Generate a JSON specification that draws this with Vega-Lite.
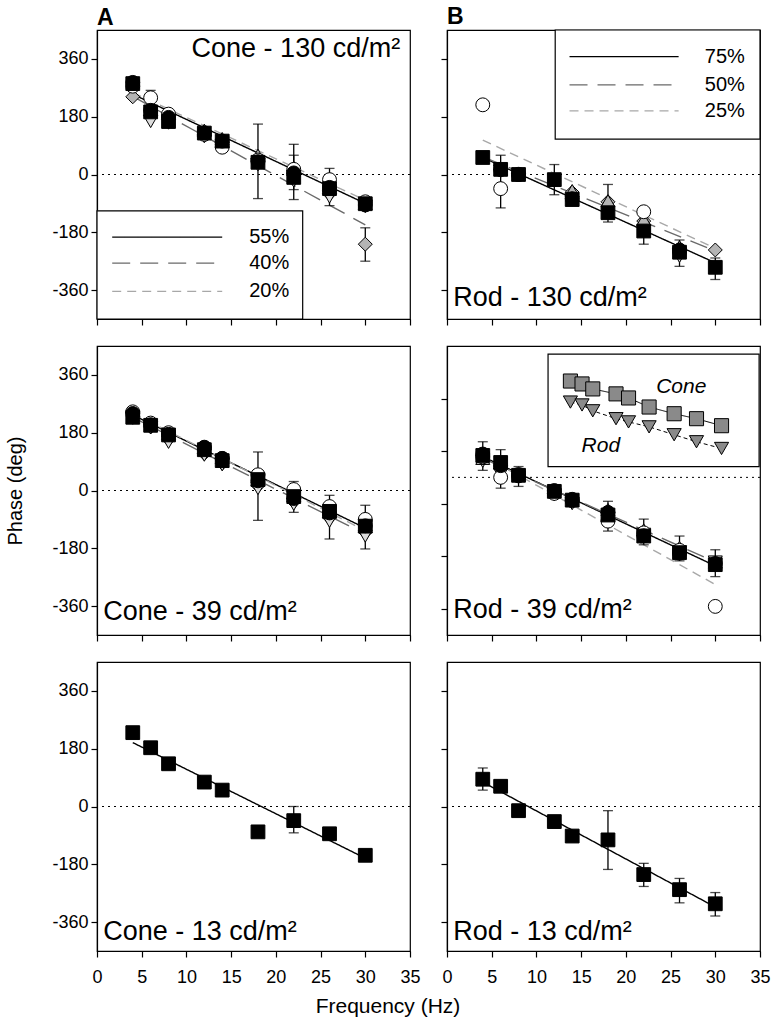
{
"$schema":"https://vega.github.io/schema/vega-lite/v6.json",
"background":"white",
"padding":5,
"title":{"text":"Frequency (Hz)","orient":"bottom","anchor":"middle","fontSize":21,"fontWeight":"normal","font":"Liberation Sans","color":"black","offset":9},
"columns":2,
"spacing":{"row":18,"column":18},
"datasets":{
"pts":[
{"p":"A1","s":"di","f":4,"v":242},{"p":"A1","s":"di","f":6,"v":185},{"p":"A1","s":"di","f":8,"v":172},{"p":"A1","s":"di","f":12,"v":122},{"p":"A1","s":"di","f":14,"v":100},{"p":"A1","s":"di","f":18,"v":50},{"p":"A1","s":"di","f":22,"v":12},{"p":"A1","s":"di","f":26,"v":-60},{"p":"A1","s":"di","f":30,"v":-217},
{"p":"A1","s":"td","f":6,"v":165},{"p":"A1","s":"td","f":8,"v":160},{"p":"A1","s":"td","f":12,"v":118},{"p":"A1","s":"td","f":14,"v":90},{"p":"A1","s":"td","f":18,"v":30},{"p":"A1","s":"td","f":22,"v":-20},{"p":"A1","s":"td","f":26,"v":-70},{"p":"A1","s":"td","f":30,"v":-100},
{"p":"A1","s":"tu","f":12,"v":138},{"p":"A1","s":"tu","f":14,"v":112},{"p":"A1","s":"tu","f":18,"v":60},{"p":"A1","s":"tu","f":22,"v":22},{"p":"A1","s":"tu","f":26,"v":-30},{"p":"A1","s":"tu","f":30,"v":-90},
{"p":"A1","s":"oc","f":4,"v":275},{"p":"A1","s":"oc","f":6,"v":239},{"p":"A1","s":"oc","f":8,"v":188},{"p":"A1","s":"oc","f":12,"v":125},{"p":"A1","s":"oc","f":14,"v":85},{"p":"A1","s":"oc","f":18,"v":45},{"p":"A1","s":"oc","f":22,"v":16},{"p":"A1","s":"oc","f":26,"v":-16},{"p":"A1","s":"oc","f":30,"v":-85},
{"p":"A1","s":"ci","f":4,"v":287},{"p":"A1","s":"ci","f":6,"v":200},{"p":"A1","s":"ci","f":8,"v":178},{"p":"A1","s":"ci","f":12,"v":130},{"p":"A1","s":"ci","f":14,"v":104},{"p":"A1","s":"ci","f":18,"v":40},{"p":"A1","s":"ci","f":22,"v":5},{"p":"A1","s":"ci","f":26,"v":-40},{"p":"A1","s":"ci","f":30,"v":-95},
{"p":"A1","s":"sq","f":4,"v":283},{"p":"A1","s":"sq","f":6,"v":195},{"p":"A1","s":"sq","f":8,"v":165},{"p":"A1","s":"sq","f":12,"v":129},{"p":"A1","s":"sq","f":14,"v":104},{"p":"A1","s":"sq","f":18,"v":38},{"p":"A1","s":"sq","f":22,"v":-9},{"p":"A1","s":"sq","f":26,"v":-44},{"p":"A1","s":"sq","f":30,"v":-91},
{"p":"B1","s":"di","f":6,"v":15},{"p":"B1","s":"di","f":8,"v":2},{"p":"B1","s":"di","f":14,"v":-55},{"p":"B1","s":"di","f":18,"v":-85},{"p":"B1","s":"di","f":22,"v":-145},{"p":"B1","s":"di","f":26,"v":-230},{"p":"B1","s":"di","f":30,"v":-235},
{"p":"B1","s":"td","f":6,"v":10},{"p":"B1","s":"td","f":26,"v":-255},
{"p":"B1","s":"tu","f":14,"v":-50},{"p":"B1","s":"tu","f":18,"v":-82},{"p":"B1","s":"tu","f":22,"v":-140},{"p":"B1","s":"tu","f":26,"v":-225},
{"p":"B1","s":"oc","f":4,"v":217},{"p":"B1","s":"oc","f":6,"v":-44},{"p":"B1","s":"oc","f":8,"v":0},{"p":"B1","s":"oc","f":22,"v":-116},{"p":"B1","s":"oc","f":26,"v":-240},
{"p":"B1","s":"ci","f":6,"v":15},{"p":"B1","s":"ci","f":8,"v":0},{"p":"B1","s":"ci","f":14,"v":-75},{"p":"B1","s":"ci","f":26,"v":-235},
{"p":"B1","s":"sq","f":4,"v":53},{"p":"B1","s":"sq","f":6,"v":16},{"p":"B1","s":"sq","f":8,"v":0},{"p":"B1","s":"sq","f":12,"v":-16},{"p":"B1","s":"sq","f":14,"v":-78},{"p":"B1","s":"sq","f":18,"v":-119},{"p":"B1","s":"sq","f":22,"v":-176},{"p":"B1","s":"sq","f":26,"v":-242},{"p":"B1","s":"sq","f":30,"v":-289},
{"p":"A2","s":"di","f":4,"v":232},{"p":"A2","s":"di","f":6,"v":198},{"p":"A2","s":"di","f":8,"v":160},{"p":"A2","s":"di","f":12,"v":115},{"p":"A2","s":"di","f":14,"v":85},{"p":"A2","s":"di","f":18,"v":15},{"p":"A2","s":"di","f":22,"v":-35},{"p":"A2","s":"di","f":26,"v":-85},{"p":"A2","s":"di","f":30,"v":-130},
{"p":"A2","s":"td","f":4,"v":225},{"p":"A2","s":"td","f":6,"v":195},{"p":"A2","s":"td","f":8,"v":150},{"p":"A2","s":"td","f":12,"v":110},{"p":"A2","s":"td","f":14,"v":80},{"p":"A2","s":"td","f":18,"v":6},{"p":"A2","s":"td","f":22,"v":-43},{"p":"A2","s":"td","f":26,"v":-96},{"p":"A2","s":"td","f":30,"v":-142},
{"p":"A2","s":"oc","f":4,"v":245},{"p":"A2","s":"oc","f":6,"v":210},{"p":"A2","s":"oc","f":8,"v":180},{"p":"A2","s":"oc","f":12,"v":133},{"p":"A2","s":"oc","f":14,"v":100},{"p":"A2","s":"oc","f":18,"v":49},{"p":"A2","s":"oc","f":22,"v":3},{"p":"A2","s":"oc","f":26,"v":-50},{"p":"A2","s":"oc","f":30,"v":-90},
{"p":"A2","s":"ci","f":4,"v":240},{"p":"A2","s":"ci","f":6,"v":205},{"p":"A2","s":"ci","f":8,"v":175},{"p":"A2","s":"ci","f":12,"v":135},{"p":"A2","s":"ci","f":14,"v":100},{"p":"A2","s":"ci","f":18,"v":30},{"p":"A2","s":"ci","f":22,"v":-25},{"p":"A2","s":"ci","f":26,"v":-70},{"p":"A2","s":"ci","f":30,"v":-110},
{"p":"A2","s":"sq","f":4,"v":228},{"p":"A2","s":"sq","f":6,"v":203},{"p":"A2","s":"sq","f":8,"v":173},{"p":"A2","s":"sq","f":12,"v":127},{"p":"A2","s":"sq","f":14,"v":93},{"p":"A2","s":"sq","f":18,"v":34},{"p":"A2","s":"sq","f":22,"v":-19},{"p":"A2","s":"sq","f":26,"v":-65},{"p":"A2","s":"sq","f":30,"v":-111},
{"p":"B2","s":"di","f":6,"v":30},{"p":"B2","s":"di","f":12,"v":-50},{"p":"B2","s":"di","f":14,"v":-80},
{"p":"B2","s":"td","f":4,"v":55},{"p":"B2","s":"td","f":6,"v":10},{"p":"B2","s":"td","f":8,"v":0},{"p":"B2","s":"td","f":12,"v":-60},{"p":"B2","s":"td","f":14,"v":-90},{"p":"B2","s":"td","f":18,"v":-140},{"p":"B2","s":"td","f":22,"v":-195},{"p":"B2","s":"td","f":26,"v":-255},{"p":"B2","s":"td","f":30,"v":-290},
{"p":"B2","s":"tu","f":4,"v":65},{"p":"B2","s":"tu","f":18,"v":-110},{"p":"B2","s":"tu","f":22,"v":-180},{"p":"B2","s":"tu","f":26,"v":-240},{"p":"B2","s":"tu","f":30,"v":-290},
{"p":"B2","s":"oc","f":4,"v":70},{"p":"B2","s":"oc","f":6,"v":0},{"p":"B2","s":"oc","f":8,"v":10},{"p":"B2","s":"oc","f":12,"v":-55},{"p":"B2","s":"oc","f":14,"v":-80},{"p":"B2","s":"oc","f":18,"v":-150},{"p":"B2","s":"oc","f":22,"v":-190},{"p":"B2","s":"oc","f":26,"v":-250},{"p":"B2","s":"oc","f":30,"v":-442},
{"p":"B2","s":"ci","f":4,"v":80},{"p":"B2","s":"ci","f":6,"v":40},{"p":"B2","s":"ci","f":8,"v":5},{"p":"B2","s":"ci","f":12,"v":-45},{"p":"B2","s":"ci","f":14,"v":-75},{"p":"B2","s":"ci","f":18,"v":-120},{"p":"B2","s":"ci","f":22,"v":-200},{"p":"B2","s":"ci","f":26,"v":-260},{"p":"B2","s":"ci","f":30,"v":-295},
{"p":"B2","s":"sq","f":4,"v":75},{"p":"B2","s":"sq","f":6,"v":51},{"p":"B2","s":"sq","f":8,"v":7},{"p":"B2","s":"sq","f":12,"v":-48},{"p":"B2","s":"sq","f":14,"v":-78},{"p":"B2","s":"sq","f":18,"v":-129},{"p":"B2","s":"sq","f":22,"v":-201},{"p":"B2","s":"sq","f":26,"v":-258},{"p":"B2","s":"sq","f":30,"v":-299},
{"p":"B2","s":"isq","f":13.8,"v":330},{"p":"B2","s":"isq","f":15.1,"v":320},{"p":"B2","s":"isq","f":16.3,"v":303},{"p":"B2","s":"isq","f":18.9,"v":286},{"p":"B2","s":"isq","f":20.3,"v":272},{"p":"B2","s":"isq","f":22.6,"v":241},{"p":"B2","s":"isq","f":25.4,"v":218},{"p":"B2","s":"isq","f":27.9,"v":201},{"p":"B2","s":"isq","f":30.7,"v":177},
{"p":"B2","s":"itd","f":13.8,"v":258},{"p":"B2","s":"itd","f":15.1,"v":248},{"p":"B2","s":"itd","f":16.3,"v":228},{"p":"B2","s":"itd","f":18.9,"v":201},{"p":"B2","s":"itd","f":20.3,"v":190},{"p":"B2","s":"itd","f":22.6,"v":173},{"p":"B2","s":"itd","f":25.4,"v":146},{"p":"B2","s":"itd","f":27.9,"v":122},{"p":"B2","s":"itd","f":30.7,"v":99},
{"p":"A3","s":"sq","f":4,"v":230},{"p":"A3","s":"sq","f":6,"v":183},{"p":"A3","s":"sq","f":8,"v":133},{"p":"A3","s":"sq","f":12,"v":76},{"p":"A3","s":"sq","f":14,"v":51},{"p":"A3","s":"sq","f":18,"v":-79},{"p":"A3","s":"sq","f":22,"v":-44},{"p":"A3","s":"sq","f":26,"v":-85},{"p":"A3","s":"sq","f":30,"v":-152},
{"p":"B3","s":"sq","f":4,"v":85},{"p":"B3","s":"sq","f":6,"v":63},{"p":"B3","s":"sq","f":8,"v":-13},{"p":"B3","s":"sq","f":12,"v":-47},{"p":"B3","s":"sq","f":14,"v":-92},{"p":"B3","s":"sq","f":18,"v":-104},{"p":"B3","s":"sq","f":22,"v":-212},{"p":"B3","s":"sq","f":26,"v":-259},{"p":"B3","s":"sq","f":30,"v":-303}
],
"err":[
{"p":"A1","f":4,"lo":265,"hi":300},{"p":"A1","f":6,"lo":205,"hi":262},{"p":"A1","f":8,"lo":160,"hi":195},{"p":"A1","f":18,"lo":-75,"hi":157},{"p":"A1","f":22,"lo":-78,"hi":94},{"p":"A1","f":22,"lo":-47,"hi":60},{"p":"A1","f":26,"lo":-97,"hi":19},{"p":"A1","f":30,"lo":-110,"hi":-75},{"p":"A1","f":30,"lo":-270,"hi":-166},
{"p":"B1","f":6,"lo":-104,"hi":60},{"p":"B1","f":12,"lo":-63,"hi":31},{"p":"B1","f":14,"lo":-90,"hi":-65},{"p":"B1","f":18,"lo":-148,"hi":-31},{"p":"B1","f":22,"lo":-217,"hi":-113},{"p":"B1","f":26,"lo":-286,"hi":-204},{"p":"B1","f":30,"lo":-327,"hi":-260},
{"p":"A2","f":4,"lo":230,"hi":255},{"p":"A2","f":18,"lo":-93,"hi":120},{"p":"A2","f":22,"lo":-68,"hi":28},{"p":"A2","f":26,"lo":-151,"hi":-15},{"p":"A2","f":30,"lo":-182,"hi":-46},
{"p":"B2","f":4,"lo":24,"hi":122},{"p":"B2","f":6,"lo":-37,"hi":95},{"p":"B2","f":8,"lo":-31,"hi":37},{"p":"B2","f":18,"lo":-184,"hi":-82},{"p":"B2","f":22,"lo":-231,"hi":-143},{"p":"B2","f":26,"lo":-286,"hi":-201},{"p":"B2","f":30,"lo":-340,"hi":-248},
{"p":"A3","f":22,"lo":-82,"hi":0},
{"p":"B3","f":4,"lo":51,"hi":120},{"p":"B3","f":14,"lo":-105,"hi":-80},{"p":"B3","f":18,"lo":-196,"hi":-13},{"p":"B3","f":22,"lo":-249,"hi":-177},{"p":"B3","f":26,"lo":-300,"hi":-224},{"p":"B3","f":30,"lo":-341,"hi":-268}
],
"ln":[
{"p":"A1","g":"a1s","s":"s","f":4,"v":250},{"p":"A1","g":"a1s","s":"s","f":30,"v":-90},
{"p":"A1","g":"a1l","s":"ld","f":4,"v":243},{"p":"A1","g":"a1l","s":"ld","f":30,"v":-157},
{"p":"A1","g":"a1d","s":"sd","f":4,"v":255},{"p":"A1","g":"a1d","s":"sd","f":30,"v":-80},
{"p":"A1","g":"a1ls","s":"s","f":1.7,"v":-195},{"p":"A1","g":"a1ls","s":"s","f":14,"v":-195},
{"p":"A1","g":"a1ll","s":"ld","f":1.7,"v":-276},{"p":"A1","g":"a1ll","s":"ld","f":14,"v":-276},
{"p":"A1","g":"a1ld","s":"sd","f":1.7,"v":-364},{"p":"A1","g":"a1ld","s":"sd","f":14,"v":-364},
{"p":"B1","g":"b1s","s":"s","f":4,"v":53},{"p":"B1","g":"b1s","s":"s","f":30,"v":-275},
{"p":"B1","g":"b1l","s":"ld","f":4,"v":55},{"p":"B1","g":"b1l","s":"ld","f":30,"v":-238},
{"p":"B1","g":"b1d","s":"sd","f":4,"v":107},{"p":"B1","g":"b1d","s":"sd","f":30,"v":-230},
{"p":"B1","g":"b1ls","s":"s","f":13.7,"v":367},{"p":"B1","g":"b1ls","s":"s","f":25.9,"v":367},
{"p":"B1","g":"b1ll","s":"ld","f":13.7,"v":279},{"p":"B1","g":"b1ll","s":"ld","f":25.9,"v":279},
{"p":"B1","g":"b1ld","s":"sd","f":13.7,"v":198},{"p":"B1","g":"b1ld","s":"sd","f":25.9,"v":198},
{"p":"A2","g":"a2s","s":"s","f":4,"v":235},{"p":"A2","g":"a2s","s":"s","f":30,"v":-117},
{"p":"A2","g":"a2l","s":"ld","f":4,"v":228},{"p":"A2","g":"a2l","s":"ld","f":30,"v":-136},
{"p":"A2","g":"a2d","s":"sd","f":4,"v":240},{"p":"A2","g":"a2d","s":"sd","f":30,"v":-125},
{"p":"B2","g":"b2s","s":"s","f":4,"v":71},{"p":"B2","g":"b2s","s":"s","f":30,"v":-303},
{"p":"B2","g":"b2l","s":"ld","f":4,"v":65},{"p":"B2","g":"b2l","s":"ld","f":30,"v":-290},
{"p":"B2","g":"b2d","s":"sd","f":4,"v":75},{"p":"B2","g":"b2d","s":"sd","f":30,"v":-367},
{"p":"B2","g":"b2is","s":"is","f":13.8,"v":330},{"p":"B2","g":"b2is","s":"is","f":15.1,"v":320},{"p":"B2","g":"b2is","s":"is","f":16.3,"v":303},{"p":"B2","g":"b2is","s":"is","f":18.9,"v":286},{"p":"B2","g":"b2is","s":"is","f":20.3,"v":272},{"p":"B2","g":"b2is","s":"is","f":22.6,"v":241},{"p":"B2","g":"b2is","s":"is","f":25.4,"v":218},{"p":"B2","g":"b2is","s":"is","f":27.9,"v":201},{"p":"B2","g":"b2is","s":"is","f":30.7,"v":177},
{"p":"B2","g":"b2it","s":"id","f":13.8,"v":258},{"p":"B2","g":"b2it","s":"id","f":15.1,"v":248},{"p":"B2","g":"b2it","s":"id","f":16.3,"v":228},{"p":"B2","g":"b2it","s":"id","f":18.9,"v":201},{"p":"B2","g":"b2it","s":"id","f":20.3,"v":190},{"p":"B2","g":"b2it","s":"id","f":22.6,"v":173},{"p":"B2","g":"b2it","s":"id","f":25.4,"v":146},{"p":"B2","g":"b2it","s":"id","f":27.9,"v":122},{"p":"B2","g":"b2it","s":"id","f":30.7,"v":99},
{"p":"A3","g":"a3s","s":"s","f":4,"v":199},{"p":"A3","g":"a3s","s":"s","f":30,"v":-161},
{"p":"B3","g":"b3s","s":"s","f":4,"v":76},{"p":"B3","g":"b3s","s":"s","f":30,"v":-313}
],
"box":[
{"p":"A1","f":0,"f2":23,"v":-113,"v2":-450},
{"p":"B1","f":12.1,"f2":35,"v":110,"v2":450},
{"p":"B2","f":11.3,"f2":34.9,"v":37,"v2":422}
],
"txt":[
{"p":"A1","k":"labR","f":33.9,"v":392,"t":"Cone - 130 cd/m²"},
{"p":"B1","k":"labL","f":0.7,"v":-385,"t":"Rod - 130 cd/m²"},
{"p":"A2","k":"labL","f":0.7,"v":-378,"t":"Cone - 39 cd/m²"},
{"p":"B2","k":"labL","f":0.7,"v":-455,"t":"Rod - 39 cd/m²"},
{"p":"A3","k":"labL","f":0.7,"v":-390,"t":"Cone - 13 cd/m²"},
{"p":"B3","k":"labL","f":0.7,"v":-390,"t":"Rod - 13 cd/m²"},
{"p":"A1","k":"leg","f":21.5,"v":-195,"t":"55%"},
{"p":"A1","k":"leg","f":21.5,"v":-276,"t":"40%"},
{"p":"A1","k":"leg","f":21.5,"v":-364,"t":"20%"},
{"p":"B1","k":"leg","f":33.3,"v":367,"t":"75%"},
{"p":"B1","k":"leg","f":33.3,"v":279,"t":"50%"},
{"p":"B1","k":"leg","f":33.3,"v":198,"t":"25%"},
{"p":"B2","k":"ins","f":26.2,"v":309,"t":"Cone"},
{"p":"B2","k":"ins","f":17.2,"v":109,"t":"Rod"}
]
},
"concat":[
{
"width":313,"height":289,
"title":{"text":"A","anchor":"start","frame":"group","fontSize":23,"fontWeight":"bold","font":"Liberation Sans","color":"black","offset":0},
"layer":[
{"data":{"values":[{}]},"mark":{"type":"rule","strokeDash":[2,4],"color":"black","strokeWidth":1},"encoding":{"y":{"datum":0,"type":"quantitative","scale":{"domain":[-450,450],"nice":false,"zero":false},"axis":{"values":[-360,-270,-180,-90,0,90,180,270,360],"labelExpr":"datum.value % 180 === 0 ? replace(datum.label, '−', '-') : ''","title":null}}}},
{"data":{"name":"box"},"transform":[{"filter":"datum.p==='A1'"}],"mark":{"type":"rect","fill":"white","stroke":"black","strokeWidth":1.2},"encoding":{"x":{"field":"f","type":"quantitative","scale":{"domain":[0,35],"nice":false,"zero":false},"axis":{"values":[0,5,10,15,20,25,30,35],"labels":false,"title":null}},"x2":{"field":"f2"},"y":{"field":"v","type":"quantitative","scale":{"domain":[-450,450],"nice":false,"zero":false},"axis":{"values":[-360,-270,-180,-90,0,90,180,270,360],"labelExpr":"datum.value % 180 === 0 ? replace(datum.label, '−', '-') : ''","title":null}},"y2":{"field":"v2"}}},
{"data":{"name":"ln"},"transform":[{"filter":"datum.p==='A1'"}],"mark":{"type":"line","strokeWidth":1.4},"encoding":{"x":{"field":"f","type":"quantitative","scale":{"domain":[0,35],"nice":false,"zero":false},"axis":{"values":[0,5,10,15,20,25,30,35],"labels":false,"title":null}},"y":{"field":"v","type":"quantitative","scale":{"domain":[-450,450],"nice":false,"zero":false},"axis":{"values":[-360,-270,-180,-90,0,90,180,270,360],"labelExpr":"datum.value % 180 === 0 ? replace(datum.label, '−', '-') : ''","title":null}},"detail":{"field":"g"},"stroke":{"field":"s","type":"nominal","scale":{"domain":["s","ld","sd","is","id"],"range":["black","#6a6a6a","#a8a8a8","black","black"]},"legend":null},"strokeDash":{"field":"s","type":"nominal","scale":{"domain":["s","ld","sd","is","id"],"range":[[1,0],[18,10],[9,6],[1,0],[4,3]]},"legend":null}}},
{"data":{"name":"err"},"transform":[{"filter":"datum.p==='A1'"}],"mark":{"type":"rule","color":"black","strokeWidth":1.3},"encoding":{"x":{"field":"f","type":"quantitative","scale":{"domain":[0,35],"nice":false,"zero":false}},"y":{"field":"lo","type":"quantitative","scale":{"domain":[-450,450],"nice":false,"zero":false}},"y2":{"field":"hi"}}},
{"data":{"name":"err"},"transform":[{"filter":"datum.p==='A1'"}],"mark":{"type":"tick","orient":"horizontal","color":"black","size":10,"thickness":1.3},"encoding":{"x":{"field":"f","type":"quantitative","scale":{"domain":[0,35],"nice":false,"zero":false}},"y":{"field":"lo","type":"quantitative","scale":{"domain":[-450,450],"nice":false,"zero":false}}}},
{"data":{"name":"err"},"transform":[{"filter":"datum.p==='A1'"}],"mark":{"type":"tick","orient":"horizontal","color":"black","size":10,"thickness":1.3},"encoding":{"x":{"field":"f","type":"quantitative","scale":{"domain":[0,35],"nice":false,"zero":false}},"y":{"field":"hi","type":"quantitative","scale":{"domain":[-450,450],"nice":false,"zero":false}}}},
{"data":{"name":"pts"},"transform":[{"filter":"datum.p==='A1'"}],"mark":{"type":"point","filled":true,"stroke":"black","strokeWidth":1,"opacity":1},"encoding":{"x":{"field":"f","type":"quantitative","scale":{"domain":[0,35],"nice":false,"zero":false},"axis":{"values":[0,5,10,15,20,25,30,35],"labels":false,"title":null}},"y":{"field":"v","type":"quantitative","scale":{"domain":[-450,450],"nice":false,"zero":false},"axis":{"values":[-360,-270,-180,-90,0,90,180,270,360],"labelExpr":"datum.value % 180 === 0 ? replace(datum.label, '−', '-') : ''","title":null}},"shape":{"field":"s","type":"nominal","scale":{"domain":["sq","ci","oc","di","tu","td","isq","itd"],"range":["square","circle","circle","diamond","triangle-up","triangle-down","square","triangle-down"]},"legend":null},"fill":{"field":"s","type":"nominal","scale":{"domain":["sq","ci","oc","di","tu","td","isq","itd"],"range":["black","black","white","#b4b4b4","#b4b4b4","#dcdcdc","#8a8a8a","#8a8a8a"]},"legend":null},"size":{"field":"s","type":"ordinal","scale":{"domain":["sq","ci","oc","di","tu","td","isq","itd"],"range":[190,200,200,250,170,170,140,140]},"legend":null}}},
{"data":{"name":"txt"},"transform":[{"filter":"datum.p==='A1' && datum.k==='labR'"}],"mark":{"type":"text","align":"right","baseline":"middle","fontSize":27,"font":"Liberation Sans","color":"black"},"encoding":{"x":{"field":"f","type":"quantitative","scale":{"domain":[0,35],"nice":false,"zero":false}},"y":{"field":"v","type":"quantitative","scale":{"domain":[-450,450],"nice":false,"zero":false}},"text":{"field":"t"}}},
{"data":{"name":"txt"},"transform":[{"filter":"datum.p==='A1' && datum.k==='leg'"}],"mark":{"type":"text","align":"right","baseline":"middle","fontSize":20,"font":"Liberation Sans","color":"black"},"encoding":{"x":{"field":"f","type":"quantitative","scale":{"domain":[0,35],"nice":false,"zero":false}},"y":{"field":"v","type":"quantitative","scale":{"domain":[-450,450],"nice":false,"zero":false}},"text":{"field":"t"}}}
]
},
{
"width":313,"height":289,
"title":{"text":"B","anchor":"start","frame":"group","fontSize":23,"fontWeight":"bold","font":"Liberation Sans","color":"black","offset":0},
"layer":[
{"data":{"values":[{}]},"mark":{"type":"rule","strokeDash":[2,4],"color":"black","strokeWidth":1},"encoding":{"y":{"datum":0,"type":"quantitative","scale":{"domain":[-450,450],"nice":false,"zero":false},"axis":{"values":[-360,-270,-180,-90,0,90,180,270,360],"labels":false,"title":null}}}},
{"data":{"name":"box"},"transform":[{"filter":"datum.p==='B1'"}],"mark":{"type":"rect","fill":"white","stroke":"black","strokeWidth":1.2},"encoding":{"x":{"field":"f","type":"quantitative","scale":{"domain":[0,35],"nice":false,"zero":false},"axis":{"values":[0,5,10,15,20,25,30,35],"labels":false,"title":null}},"x2":{"field":"f2"},"y":{"field":"v","type":"quantitative","scale":{"domain":[-450,450],"nice":false,"zero":false},"axis":{"values":[-360,-270,-180,-90,0,90,180,270,360],"labels":false,"title":null}},"y2":{"field":"v2"}}},
{"data":{"name":"ln"},"transform":[{"filter":"datum.p==='B1'"}],"mark":{"type":"line","strokeWidth":1.4},"encoding":{"x":{"field":"f","type":"quantitative","scale":{"domain":[0,35],"nice":false,"zero":false},"axis":{"values":[0,5,10,15,20,25,30,35],"labels":false,"title":null}},"y":{"field":"v","type":"quantitative","scale":{"domain":[-450,450],"nice":false,"zero":false},"axis":{"values":[-360,-270,-180,-90,0,90,180,270,360],"labels":false,"title":null}},"detail":{"field":"g"},"stroke":{"field":"s","type":"nominal","scale":{"domain":["s","ld","sd","is","id"],"range":["black","#6a6a6a","#a8a8a8","black","black"]},"legend":null},"strokeDash":{"field":"s","type":"nominal","scale":{"domain":["s","ld","sd","is","id"],"range":[[1,0],[18,10],[9,6],[1,0],[4,3]]},"legend":null}}},
{"data":{"name":"err"},"transform":[{"filter":"datum.p==='B1'"}],"mark":{"type":"rule","color":"black","strokeWidth":1.3},"encoding":{"x":{"field":"f","type":"quantitative","scale":{"domain":[0,35],"nice":false,"zero":false}},"y":{"field":"lo","type":"quantitative","scale":{"domain":[-450,450],"nice":false,"zero":false}},"y2":{"field":"hi"}}},
{"data":{"name":"err"},"transform":[{"filter":"datum.p==='B1'"}],"mark":{"type":"tick","orient":"horizontal","color":"black","size":10,"thickness":1.3},"encoding":{"x":{"field":"f","type":"quantitative","scale":{"domain":[0,35],"nice":false,"zero":false}},"y":{"field":"lo","type":"quantitative","scale":{"domain":[-450,450],"nice":false,"zero":false}}}},
{"data":{"name":"err"},"transform":[{"filter":"datum.p==='B1'"}],"mark":{"type":"tick","orient":"horizontal","color":"black","size":10,"thickness":1.3},"encoding":{"x":{"field":"f","type":"quantitative","scale":{"domain":[0,35],"nice":false,"zero":false}},"y":{"field":"hi","type":"quantitative","scale":{"domain":[-450,450],"nice":false,"zero":false}}}},
{"data":{"name":"pts"},"transform":[{"filter":"datum.p==='B1'"}],"mark":{"type":"point","filled":true,"stroke":"black","strokeWidth":1,"opacity":1},"encoding":{"x":{"field":"f","type":"quantitative","scale":{"domain":[0,35],"nice":false,"zero":false},"axis":{"values":[0,5,10,15,20,25,30,35],"labels":false,"title":null}},"y":{"field":"v","type":"quantitative","scale":{"domain":[-450,450],"nice":false,"zero":false},"axis":{"values":[-360,-270,-180,-90,0,90,180,270,360],"labels":false,"title":null}},"shape":{"field":"s","type":"nominal","scale":{"domain":["sq","ci","oc","di","tu","td","isq","itd"],"range":["square","circle","circle","diamond","triangle-up","triangle-down","square","triangle-down"]},"legend":null},"fill":{"field":"s","type":"nominal","scale":{"domain":["sq","ci","oc","di","tu","td","isq","itd"],"range":["black","black","white","#b4b4b4","#b4b4b4","#dcdcdc","#8a8a8a","#8a8a8a"]},"legend":null},"size":{"field":"s","type":"ordinal","scale":{"domain":["sq","ci","oc","di","tu","td","isq","itd"],"range":[190,200,200,250,170,170,140,140]},"legend":null}}},
{"data":{"name":"txt"},"transform":[{"filter":"datum.p==='B1' && datum.k==='labL'"}],"mark":{"type":"text","align":"left","baseline":"middle","fontSize":27,"font":"Liberation Sans","color":"black"},"encoding":{"x":{"field":"f","type":"quantitative","scale":{"domain":[0,35],"nice":false,"zero":false}},"y":{"field":"v","type":"quantitative","scale":{"domain":[-450,450],"nice":false,"zero":false}},"text":{"field":"t"}}},
{"data":{"name":"txt"},"transform":[{"filter":"datum.p==='B1' && datum.k==='leg'"}],"mark":{"type":"text","align":"right","baseline":"middle","fontSize":20,"font":"Liberation Sans","color":"black"},"encoding":{"x":{"field":"f","type":"quantitative","scale":{"domain":[0,35],"nice":false,"zero":false}},"y":{"field":"v","type":"quantitative","scale":{"domain":[-450,450],"nice":false,"zero":false}},"text":{"field":"t"}}}
]
},
{
"width":313,"height":289,
"layer":[
{"data":{"values":[{}]},"mark":{"type":"rule","strokeDash":[2,4],"color":"black","strokeWidth":1},"encoding":{"y":{"datum":0,"type":"quantitative","scale":{"domain":[-450,450],"nice":false,"zero":false},"axis":{"values":[-360,-270,-180,-90,0,90,180,270,360],"labelExpr":"datum.value % 180 === 0 ? replace(datum.label, '−', '-') : ''","title":"Phase (deg)"}}}},
{"data":{"name":"ln"},"transform":[{"filter":"datum.p==='A2'"}],"mark":{"type":"line","strokeWidth":1.4},"encoding":{"x":{"field":"f","type":"quantitative","scale":{"domain":[0,35],"nice":false,"zero":false},"axis":{"values":[0,5,10,15,20,25,30,35],"labels":false,"title":null}},"y":{"field":"v","type":"quantitative","scale":{"domain":[-450,450],"nice":false,"zero":false},"axis":{"values":[-360,-270,-180,-90,0,90,180,270,360],"labelExpr":"datum.value % 180 === 0 ? replace(datum.label, '−', '-') : ''","title":"Phase (deg)"}},"detail":{"field":"g"},"stroke":{"field":"s","type":"nominal","scale":{"domain":["s","ld","sd","is","id"],"range":["black","#6a6a6a","#a8a8a8","black","black"]},"legend":null},"strokeDash":{"field":"s","type":"nominal","scale":{"domain":["s","ld","sd","is","id"],"range":[[1,0],[18,10],[9,6],[1,0],[4,3]]},"legend":null}}},
{"data":{"name":"err"},"transform":[{"filter":"datum.p==='A2'"}],"mark":{"type":"rule","color":"black","strokeWidth":1.3},"encoding":{"x":{"field":"f","type":"quantitative","scale":{"domain":[0,35],"nice":false,"zero":false}},"y":{"field":"lo","type":"quantitative","scale":{"domain":[-450,450],"nice":false,"zero":false}},"y2":{"field":"hi"}}},
{"data":{"name":"err"},"transform":[{"filter":"datum.p==='A2'"}],"mark":{"type":"tick","orient":"horizontal","color":"black","size":10,"thickness":1.3},"encoding":{"x":{"field":"f","type":"quantitative","scale":{"domain":[0,35],"nice":false,"zero":false}},"y":{"field":"lo","type":"quantitative","scale":{"domain":[-450,450],"nice":false,"zero":false}}}},
{"data":{"name":"err"},"transform":[{"filter":"datum.p==='A2'"}],"mark":{"type":"tick","orient":"horizontal","color":"black","size":10,"thickness":1.3},"encoding":{"x":{"field":"f","type":"quantitative","scale":{"domain":[0,35],"nice":false,"zero":false}},"y":{"field":"hi","type":"quantitative","scale":{"domain":[-450,450],"nice":false,"zero":false}}}},
{"data":{"name":"pts"},"transform":[{"filter":"datum.p==='A2'"}],"mark":{"type":"point","filled":true,"stroke":"black","strokeWidth":1,"opacity":1},"encoding":{"x":{"field":"f","type":"quantitative","scale":{"domain":[0,35],"nice":false,"zero":false},"axis":{"values":[0,5,10,15,20,25,30,35],"labels":false,"title":null}},"y":{"field":"v","type":"quantitative","scale":{"domain":[-450,450],"nice":false,"zero":false},"axis":{"values":[-360,-270,-180,-90,0,90,180,270,360],"labelExpr":"datum.value % 180 === 0 ? replace(datum.label, '−', '-') : ''","title":"Phase (deg)"}},"shape":{"field":"s","type":"nominal","scale":{"domain":["sq","ci","oc","di","tu","td","isq","itd"],"range":["square","circle","circle","diamond","triangle-up","triangle-down","square","triangle-down"]},"legend":null},"fill":{"field":"s","type":"nominal","scale":{"domain":["sq","ci","oc","di","tu","td","isq","itd"],"range":["black","black","white","#b4b4b4","#b4b4b4","#dcdcdc","#8a8a8a","#8a8a8a"]},"legend":null},"size":{"field":"s","type":"ordinal","scale":{"domain":["sq","ci","oc","di","tu","td","isq","itd"],"range":[190,200,200,250,170,170,140,140]},"legend":null}}},
{"data":{"name":"txt"},"transform":[{"filter":"datum.p==='A2' && datum.k==='labL'"}],"mark":{"type":"text","align":"left","baseline":"middle","fontSize":27,"font":"Liberation Sans","color":"black"},"encoding":{"x":{"field":"f","type":"quantitative","scale":{"domain":[0,35],"nice":false,"zero":false}},"y":{"field":"v","type":"quantitative","scale":{"domain":[-450,450],"nice":false,"zero":false}},"text":{"field":"t"}}}
]
},
{
"width":313,"height":289,
"layer":[
{"data":{"values":[{}]},"mark":{"type":"rule","strokeDash":[2,4],"color":"black","strokeWidth":1},"encoding":{"y":{"datum":0,"type":"quantitative","scale":{"domain":[-540,450],"nice":false,"zero":false},"axis":{"values":[-450,-360,-270,-180,-90,0,90,180,270,360],"labels":false,"title":null}}}},
{"data":{"name":"ln"},"transform":[{"filter":"datum.p==='B2' && datum.s!=='is' && datum.s!=='id'"}],"mark":{"type":"line","strokeWidth":1.4},"encoding":{"x":{"field":"f","type":"quantitative","scale":{"domain":[0,35],"nice":false,"zero":false},"axis":{"values":[0,5,10,15,20,25,30,35],"labels":false,"title":null}},"y":{"field":"v","type":"quantitative","scale":{"domain":[-540,450],"nice":false,"zero":false},"axis":{"values":[-450,-360,-270,-180,-90,0,90,180,270,360],"labels":false,"title":null}},"detail":{"field":"g"},"stroke":{"field":"s","type":"nominal","scale":{"domain":["s","ld","sd","is","id"],"range":["black","#6a6a6a","#a8a8a8","black","black"]},"legend":null},"strokeDash":{"field":"s","type":"nominal","scale":{"domain":["s","ld","sd","is","id"],"range":[[1,0],[18,10],[9,6],[1,0],[4,3]]},"legend":null}}},
{"data":{"name":"err"},"transform":[{"filter":"datum.p==='B2'"}],"mark":{"type":"rule","color":"black","strokeWidth":1.3},"encoding":{"x":{"field":"f","type":"quantitative","scale":{"domain":[0,35],"nice":false,"zero":false}},"y":{"field":"lo","type":"quantitative","scale":{"domain":[-540,450],"nice":false,"zero":false}},"y2":{"field":"hi"}}},
{"data":{"name":"err"},"transform":[{"filter":"datum.p==='B2'"}],"mark":{"type":"tick","orient":"horizontal","color":"black","size":10,"thickness":1.3},"encoding":{"x":{"field":"f","type":"quantitative","scale":{"domain":[0,35],"nice":false,"zero":false}},"y":{"field":"lo","type":"quantitative","scale":{"domain":[-540,450],"nice":false,"zero":false}}}},
{"data":{"name":"err"},"transform":[{"filter":"datum.p==='B2'"}],"mark":{"type":"tick","orient":"horizontal","color":"black","size":10,"thickness":1.3},"encoding":{"x":{"field":"f","type":"quantitative","scale":{"domain":[0,35],"nice":false,"zero":false}},"y":{"field":"hi","type":"quantitative","scale":{"domain":[-540,450],"nice":false,"zero":false}}}},
{"data":{"name":"pts"},"transform":[{"filter":"datum.p==='B2' && datum.s!=='isq' && datum.s!=='itd'"}],"mark":{"type":"point","filled":true,"stroke":"black","strokeWidth":1,"opacity":1},"encoding":{"x":{"field":"f","type":"quantitative","scale":{"domain":[0,35],"nice":false,"zero":false},"axis":{"values":[0,5,10,15,20,25,30,35],"labels":false,"title":null}},"y":{"field":"v","type":"quantitative","scale":{"domain":[-540,450],"nice":false,"zero":false},"axis":{"values":[-450,-360,-270,-180,-90,0,90,180,270,360],"labels":false,"title":null}},"shape":{"field":"s","type":"nominal","scale":{"domain":["sq","ci","oc","di","tu","td","isq","itd"],"range":["square","circle","circle","diamond","triangle-up","triangle-down","square","triangle-down"]},"legend":null},"fill":{"field":"s","type":"nominal","scale":{"domain":["sq","ci","oc","di","tu","td","isq","itd"],"range":["black","black","white","#b4b4b4","#b4b4b4","#dcdcdc","#8a8a8a","#8a8a8a"]},"legend":null},"size":{"field":"s","type":"ordinal","scale":{"domain":["sq","ci","oc","di","tu","td","isq","itd"],"range":[190,200,200,250,170,170,140,140]},"legend":null}}},
{"data":{"name":"box"},"transform":[{"filter":"datum.p==='B2'"}],"mark":{"type":"rect","fill":"white","stroke":"black","strokeWidth":1.2},"encoding":{"x":{"field":"f","type":"quantitative","scale":{"domain":[0,35],"nice":false,"zero":false}},"x2":{"field":"f2"},"y":{"field":"v","type":"quantitative","scale":{"domain":[-540,450],"nice":false,"zero":false}},"y2":{"field":"v2"}}},
{"data":{"name":"ln"},"transform":[{"filter":"datum.p==='B2' && (datum.s==='is' || datum.s==='id')"}],"mark":{"type":"line","strokeWidth":1},"encoding":{"x":{"field":"f","type":"quantitative","scale":{"domain":[0,35],"nice":false,"zero":false}},"y":{"field":"v","type":"quantitative","scale":{"domain":[-540,450],"nice":false,"zero":false}},"detail":{"field":"g"},"stroke":{"field":"s","type":"nominal","scale":{"domain":["s","ld","sd","is","id"],"range":["black","#6a6a6a","#a8a8a8","black","black"]},"legend":null},"strokeDash":{"field":"s","type":"nominal","scale":{"domain":["s","ld","sd","is","id"],"range":[[1,0],[18,10],[9,6],[1,0],[4,3]]},"legend":null}}},
{"data":{"name":"pts"},"transform":[{"filter":"datum.p==='B2' && (datum.s==='isq' || datum.s==='itd')"}],"mark":{"type":"point","filled":true,"stroke":"black","strokeWidth":1,"opacity":1},"encoding":{"x":{"field":"f","type":"quantitative","scale":{"domain":[0,35],"nice":false,"zero":false}},"y":{"field":"v","type":"quantitative","scale":{"domain":[-540,450],"nice":false,"zero":false}},"shape":{"field":"s","type":"nominal","scale":{"domain":["sq","ci","oc","di","tu","td","isq","itd"],"range":["square","circle","circle","diamond","triangle-up","triangle-down","square","triangle-down"]},"legend":null},"fill":{"field":"s","type":"nominal","scale":{"domain":["sq","ci","oc","di","tu","td","isq","itd"],"range":["black","black","white","#b4b4b4","#b4b4b4","#dcdcdc","#8a8a8a","#8a8a8a"]},"legend":null},"size":{"field":"s","type":"ordinal","scale":{"domain":["sq","ci","oc","di","tu","td","isq","itd"],"range":[190,200,200,250,170,170,140,140]},"legend":null}}},
{"data":{"name":"txt"},"transform":[{"filter":"datum.p==='B2' && datum.k==='labL'"}],"mark":{"type":"text","align":"left","baseline":"middle","fontSize":27,"font":"Liberation Sans","color":"black"},"encoding":{"x":{"field":"f","type":"quantitative","scale":{"domain":[0,35],"nice":false,"zero":false}},"y":{"field":"v","type":"quantitative","scale":{"domain":[-540,450],"nice":false,"zero":false}},"text":{"field":"t"}}},
{"data":{"name":"txt"},"transform":[{"filter":"datum.p==='B2' && datum.k==='ins'"}],"mark":{"type":"text","align":"center","baseline":"middle","fontSize":21,"fontStyle":"italic","font":"Liberation Sans","color":"black"},"encoding":{"x":{"field":"f","type":"quantitative","scale":{"domain":[0,35],"nice":false,"zero":false}},"y":{"field":"v","type":"quantitative","scale":{"domain":[-540,450],"nice":false,"zero":false}},"text":{"field":"t"}}}
]
},
{
"width":313,"height":289,
"layer":[
{"data":{"values":[{}]},"mark":{"type":"rule","strokeDash":[2,4],"color":"black","strokeWidth":1},"encoding":{"y":{"datum":0,"type":"quantitative","scale":{"domain":[-450,450],"nice":false,"zero":false},"axis":{"values":[-360,-270,-180,-90,0,90,180,270,360],"labelExpr":"datum.value % 180 === 0 ? replace(datum.label, '−', '-') : ''","title":null}}}},
{"data":{"name":"ln"},"transform":[{"filter":"datum.p==='A3'"}],"mark":{"type":"line","strokeWidth":1.4},"encoding":{"x":{"field":"f","type":"quantitative","scale":{"domain":[0,35],"nice":false,"zero":false},"axis":{"values":[0,5,10,15,20,25,30,35],"title":null}},"y":{"field":"v","type":"quantitative","scale":{"domain":[-450,450],"nice":false,"zero":false},"axis":{"values":[-360,-270,-180,-90,0,90,180,270,360],"labelExpr":"datum.value % 180 === 0 ? replace(datum.label, '−', '-') : ''","title":null}},"detail":{"field":"g"},"stroke":{"field":"s","type":"nominal","scale":{"domain":["s","ld","sd","is","id"],"range":["black","#6a6a6a","#a8a8a8","black","black"]},"legend":null},"strokeDash":{"field":"s","type":"nominal","scale":{"domain":["s","ld","sd","is","id"],"range":[[1,0],[18,10],[9,6],[1,0],[4,3]]},"legend":null}}},
{"data":{"name":"err"},"transform":[{"filter":"datum.p==='A3'"}],"mark":{"type":"rule","color":"black","strokeWidth":1.3},"encoding":{"x":{"field":"f","type":"quantitative","scale":{"domain":[0,35],"nice":false,"zero":false}},"y":{"field":"lo","type":"quantitative","scale":{"domain":[-450,450],"nice":false,"zero":false}},"y2":{"field":"hi"}}},
{"data":{"name":"err"},"transform":[{"filter":"datum.p==='A3'"}],"mark":{"type":"tick","orient":"horizontal","color":"black","size":10,"thickness":1.3},"encoding":{"x":{"field":"f","type":"quantitative","scale":{"domain":[0,35],"nice":false,"zero":false}},"y":{"field":"lo","type":"quantitative","scale":{"domain":[-450,450],"nice":false,"zero":false}}}},
{"data":{"name":"err"},"transform":[{"filter":"datum.p==='A3'"}],"mark":{"type":"tick","orient":"horizontal","color":"black","size":10,"thickness":1.3},"encoding":{"x":{"field":"f","type":"quantitative","scale":{"domain":[0,35],"nice":false,"zero":false}},"y":{"field":"hi","type":"quantitative","scale":{"domain":[-450,450],"nice":false,"zero":false}}}},
{"data":{"name":"pts"},"transform":[{"filter":"datum.p==='A3'"}],"mark":{"type":"point","filled":true,"stroke":"black","strokeWidth":1,"opacity":1},"encoding":{"x":{"field":"f","type":"quantitative","scale":{"domain":[0,35],"nice":false,"zero":false},"axis":{"values":[0,5,10,15,20,25,30,35],"title":null}},"y":{"field":"v","type":"quantitative","scale":{"domain":[-450,450],"nice":false,"zero":false},"axis":{"values":[-360,-270,-180,-90,0,90,180,270,360],"labelExpr":"datum.value % 180 === 0 ? replace(datum.label, '−', '-') : ''","title":null}},"shape":{"field":"s","type":"nominal","scale":{"domain":["sq","ci","oc","di","tu","td","isq","itd"],"range":["square","circle","circle","diamond","triangle-up","triangle-down","square","triangle-down"]},"legend":null},"fill":{"field":"s","type":"nominal","scale":{"domain":["sq","ci","oc","di","tu","td","isq","itd"],"range":["black","black","white","#b4b4b4","#b4b4b4","#dcdcdc","#8a8a8a","#8a8a8a"]},"legend":null},"size":{"field":"s","type":"ordinal","scale":{"domain":["sq","ci","oc","di","tu","td","isq","itd"],"range":[190,200,200,250,170,170,140,140]},"legend":null}}},
{"data":{"name":"txt"},"transform":[{"filter":"datum.p==='A3' && datum.k==='labL'"}],"mark":{"type":"text","align":"left","baseline":"middle","fontSize":27,"font":"Liberation Sans","color":"black"},"encoding":{"x":{"field":"f","type":"quantitative","scale":{"domain":[0,35],"nice":false,"zero":false}},"y":{"field":"v","type":"quantitative","scale":{"domain":[-450,450],"nice":false,"zero":false}},"text":{"field":"t"}}}
]
},
{
"width":313,"height":289,
"layer":[
{"data":{"values":[{}]},"mark":{"type":"rule","strokeDash":[2,4],"color":"black","strokeWidth":1},"encoding":{"y":{"datum":0,"type":"quantitative","scale":{"domain":[-450,450],"nice":false,"zero":false},"axis":{"values":[-360,-270,-180,-90,0,90,180,270,360],"labels":false,"title":null}}}},
{"data":{"name":"ln"},"transform":[{"filter":"datum.p==='B3'"}],"mark":{"type":"line","strokeWidth":1.4},"encoding":{"x":{"field":"f","type":"quantitative","scale":{"domain":[0,35],"nice":false,"zero":false},"axis":{"values":[0,5,10,15,20,25,30,35],"title":null}},"y":{"field":"v","type":"quantitative","scale":{"domain":[-450,450],"nice":false,"zero":false},"axis":{"values":[-360,-270,-180,-90,0,90,180,270,360],"labels":false,"title":null}},"detail":{"field":"g"},"stroke":{"field":"s","type":"nominal","scale":{"domain":["s","ld","sd","is","id"],"range":["black","#6a6a6a","#a8a8a8","black","black"]},"legend":null},"strokeDash":{"field":"s","type":"nominal","scale":{"domain":["s","ld","sd","is","id"],"range":[[1,0],[18,10],[9,6],[1,0],[4,3]]},"legend":null}}},
{"data":{"name":"err"},"transform":[{"filter":"datum.p==='B3'"}],"mark":{"type":"rule","color":"black","strokeWidth":1.3},"encoding":{"x":{"field":"f","type":"quantitative","scale":{"domain":[0,35],"nice":false,"zero":false}},"y":{"field":"lo","type":"quantitative","scale":{"domain":[-450,450],"nice":false,"zero":false}},"y2":{"field":"hi"}}},
{"data":{"name":"err"},"transform":[{"filter":"datum.p==='B3'"}],"mark":{"type":"tick","orient":"horizontal","color":"black","size":10,"thickness":1.3},"encoding":{"x":{"field":"f","type":"quantitative","scale":{"domain":[0,35],"nice":false,"zero":false}},"y":{"field":"lo","type":"quantitative","scale":{"domain":[-450,450],"nice":false,"zero":false}}}},
{"data":{"name":"err"},"transform":[{"filter":"datum.p==='B3'"}],"mark":{"type":"tick","orient":"horizontal","color":"black","size":10,"thickness":1.3},"encoding":{"x":{"field":"f","type":"quantitative","scale":{"domain":[0,35],"nice":false,"zero":false}},"y":{"field":"hi","type":"quantitative","scale":{"domain":[-450,450],"nice":false,"zero":false}}}},
{"data":{"name":"pts"},"transform":[{"filter":"datum.p==='B3'"}],"mark":{"type":"point","filled":true,"stroke":"black","strokeWidth":1,"opacity":1},"encoding":{"x":{"field":"f","type":"quantitative","scale":{"domain":[0,35],"nice":false,"zero":false},"axis":{"values":[0,5,10,15,20,25,30,35],"title":null}},"y":{"field":"v","type":"quantitative","scale":{"domain":[-450,450],"nice":false,"zero":false},"axis":{"values":[-360,-270,-180,-90,0,90,180,270,360],"labels":false,"title":null}},"shape":{"field":"s","type":"nominal","scale":{"domain":["sq","ci","oc","di","tu","td","isq","itd"],"range":["square","circle","circle","diamond","triangle-up","triangle-down","square","triangle-down"]},"legend":null},"fill":{"field":"s","type":"nominal","scale":{"domain":["sq","ci","oc","di","tu","td","isq","itd"],"range":["black","black","white","#b4b4b4","#b4b4b4","#dcdcdc","#8a8a8a","#8a8a8a"]},"legend":null},"size":{"field":"s","type":"ordinal","scale":{"domain":["sq","ci","oc","di","tu","td","isq","itd"],"range":[190,200,200,250,170,170,140,140]},"legend":null}}},
{"data":{"name":"txt"},"transform":[{"filter":"datum.p==='B3' && datum.k==='labL'"}],"mark":{"type":"text","align":"left","baseline":"middle","fontSize":27,"font":"Liberation Sans","color":"black"},"encoding":{"x":{"field":"f","type":"quantitative","scale":{"domain":[0,35],"nice":false,"zero":false}},"y":{"field":"v","type":"quantitative","scale":{"domain":[-450,450],"nice":false,"zero":false}},"text":{"field":"t"}}}
]
}
],
"config":{
"font":"Liberation Sans",
"view":{"stroke":"black","strokeWidth":1.2,"fill":"white"},
"axis":{"grid":false,"domainColor":"black","domainWidth":1.2,"tickColor":"black","tickSize":6,"tickWidth":1.2,"labelColor":"black","labelFontSize":18,"labelFont":"Liberation Sans","labelPadding":3,"labelFlush":false,"labelOverlap":false,"titleFont":"Liberation Sans","titleFontSize":20,"titleFontWeight":"normal","titleColor":"black","titlePadding":26},
"axisX":{"labelPadding":11}
}
}
